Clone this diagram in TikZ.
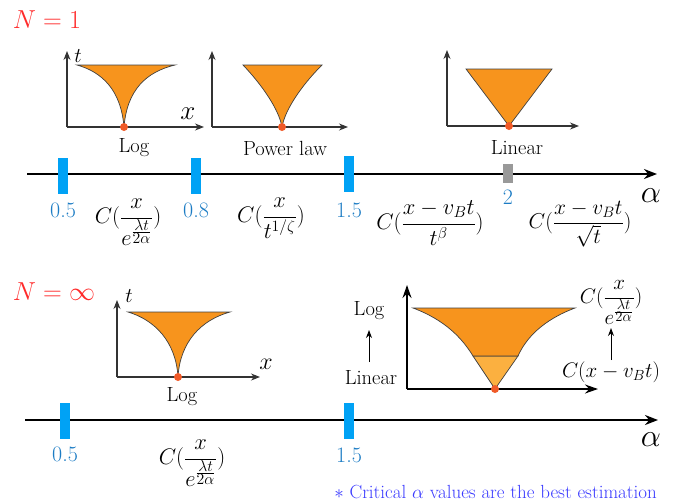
\RequirePackage{fix-cm}
\documentclass[tikz,border=0pt]{standalone}
\usetikzlibrary{arrows.meta}
\definecolor{forange}{HTML}{F7941D}
\definecolor{lorange}{HTML}{FBB040}
\definecolor{reddot}{HTML}{F05A28}
\definecolor{tickblue}{HTML}{00A2F5}
\definecolor{labblue}{HTML}{1C7CC4}
\definecolor{tickgray}{HTML}{999999}
\definecolor{nred}{HTML}{FF2A2A}
\definecolor{notblue}{HTML}{3A3AFF}
\definecolor{axgray}{HTML}{333333}
\newcommand{\expfrac}{e^{\frac{\scriptstyle\lambda t}{\scriptstyle 2\alpha}}}
\tikzset{
  mainaxis/.style={line width=2.4pt,-{Stealth[length=13pt,width=10pt]}},
  smallaxis/.style={axgray,line width=1.1pt,-{Stealth[length=9pt,width=7pt]}},
  bigaxis/.style={black,line width=1.6pt,-{Stealth[length=13pt,width=9pt]}},
  funnel/.style={fill=forange,draw=black!75,line width=0.7pt},
  lfunnel/.style={fill=lorange,draw=black!75,line width=0.7pt},
  dotn/.style={circle,fill=reddot,inner sep=0pt,minimum size=8pt},
  tickb/.style={fill=tickblue,inner sep=0pt,minimum width=10pt,minimum height=36pt},
  tickg/.style={fill=tickgray,inner sep=0pt,minimum width=10pt,minimum height=19pt},
  numlab/.style={text=labblue,font=\fontsize{22}{26}\selectfont,inner sep=0pt},
  txtlab/.style={font=\fontsize{20.5}{24}\selectfont,inner sep=0pt},
  formula/.style={font=\fontsize{22.5}{27}\selectfont,inner sep=0pt},
  ntitle/.style={text=nred,font=\fontsize{26}{30}\selectfont,inner sep=0pt},
  alab/.style={font=\fontsize{32}{36}\selectfont,inner sep=0pt},
  tlab/.style={font=\fontsize{21}{25}\selectfont,inner sep=0pt},
  xlab/.style={font=\fontsize{27}{31}\selectfont,inner sep=0pt},
  thinarrow/.style={black,line width=1pt,-{Stealth[length=8pt,width=6pt]}},
}
\begin{document}
\begin{tikzpicture}[x=1pt,y=-1pt]
\useasboundingbox (0,0) rectangle (676,501);

% ---------------- N = 1 ----------------
\node[ntitle] (n1) at (47,20) {$N=1$};

% main axis top
\coordinate (aA) at (27,174);
\coordinate (aB) at (657,174);
\draw[mainaxis] (aA) -- (aB);
\node[alab] (al1) at (651,196) {$\alpha$};

\node[tickb] (tk1) at (63,176) {};
\node[tickb] (tk2) at (196,176) {};
\node[tickb] (tk3) at (349,173.5) {};
\node[tickg] (tk4) at (508,173.5) {};

\node[numlab] (l1) at (63,210) {0.5};
\node[numlab] (l2) at (196,210) {0.8};
\node[numlab] (l3) at (349,210) {1.5};
\node[numlab] (l4) at (508,197) {2};

\node[formula] (f1) at (128,222) {$\displaystyle C(\frac{x}{\expfrac})$};
\node[formula] (f2) at (271,218) {$\displaystyle C(\frac{x}{t^{1/\zeta}})$};
\node[formula] (f3) at (430,223) {$\displaystyle C(\frac{x-v_Bt}{t^{\beta}})$};
\node[formula,font=\fontsize{21.5}{26}\selectfont] (f4) at (580,224) {$\displaystyle C(\frac{x-v_Bt}{\sqrt{t}})$};

% Log graph top
\coordinate (o1) at (67,127);
\coordinate (y1) at (67,51);
\coordinate (x1) at (204,127);
\draw[funnel] (77,65) -- (175,65) .. controls (146,72) and (127,90) .. (124,127)
   .. controls (121,90) and (102,72) .. cycle;
\draw[smallaxis] (o1) -- (y1);
\draw[smallaxis] (o1) -- (x1);
\node[dotn] (d1) at (124,127) {};
\node[tlab] (tt1) at (78,56) {$t$};
\node[xlab] (xx1) at (188,114) {$x$};
\node[txtlab] (g1) at (134,148) {Log};

% Power law graph
\coordinate (o2) at (212,127);
\coordinate (y2) at (212,51);
\coordinate (x2) at (348,127);
\draw[funnel] (243,65) -- (322,65) .. controls (301,86) and (285,110) .. (282,127)
   .. controls (279,110) and (263,86) .. cycle;
\draw[smallaxis] (o2) -- (y2);
\draw[smallaxis] (o2) -- (x2);
\node[dotn] (d2) at (282,127) {};
\node[txtlab] (g2) at (285,148) {Power law};

% Linear graph
\coordinate (o3) at (447,126);
\coordinate (y3) at (447,50);
\coordinate (x3) at (579,126);
\draw[funnel] (466,69) -- (552,69) -- (509,126) -- cycle;
\draw[smallaxis] (o3) -- (y3);
\draw[smallaxis] (o3) -- (x3);
\node[dotn] (d3) at (509,126) {};
\node[txtlab] (g3) at (517,148) {Linear};

% ---------------- N = infinity ----------------
\node[ntitle] (n2) at (54,292) {$N=\infty$};

\coordinate (bA) at (25,420);
\coordinate (bB) at (658,420);
\draw[mainaxis] (bA) -- (bB);
\node[alab] (al2) at (651,440) {$\alpha$};

\node[tickb] (bk1) at (65,420.5) {};
\node[tickb] (bk2) at (349,420.5) {};
\node[numlab] (bl1) at (65,454) {0.5};
\node[numlab] (bl2) at (349,455) {1.5};

\node[formula] (bf1) at (192,463) {$\displaystyle C(\frac{x}{\expfrac})$};

% bottom Log graph
\coordinate (o4) at (117,377);
\coordinate (y4) at (117,300);
\coordinate (x4) at (260,377);
\draw[funnel] (128,312) -- (230,312) .. controls (201,320) and (180,342) .. (178,377)
   .. controls (176,342) and (155,320) .. cycle;
\draw[smallaxis] (o4) -- (y4);
\draw[smallaxis] (o4) -- (x4);
\node[dotn] (d4) at (178,377) {};
\node[tlab] (tt4) at (129,296) {$t$};
\node[xlab,font=\fontsize{24}{28}\selectfont] (xx4) at (266,364) {$x$};
\node[txtlab] (g4) at (182,397) {Log};

% bottom right graph
\coordinate (o5) at (407,389);
\coordinate (y5) at (407,285);
\coordinate (x5) at (598,389);
\draw[lfunnel] (473,356) -- (518,356) -- (495,389) -- cycle;
\draw[funnel] (413,308) -- (575,308) .. controls (543,320) and (526,338) .. (518,356)
   -- (473,356) .. controls (462,338) and (445,320) .. cycle;
\draw[bigaxis] (o5) -- (y5);
\draw[bigaxis] (o5) -- (x5);
\node[dotn] (d5) at (495,389) {};

\node[txtlab] (lg) at (369,311) {Log};
\node[txtlab] (ln) at (371,378) {Linear};
\draw[thinarrow] (369,362) -- (369,330);

\node[formula,font=\fontsize{21}{25}\selectfont] (rf1) at (611,302) {$\displaystyle C(\frac{x}{\expfrac})$};
\node[formula,font=\fontsize{21}{25}\selectfont] (rf2) at (611,372) {$C(x-v_Bt)$};
\draw[thinarrow] (611,360) -- (611,328);

\node[text=notblue,font=\fontsize{19}{22}\selectfont,inner sep=0pt,anchor=east] (note) at (657,492) {$*$ Critical $\alpha$ values are the best estimation};
\end{tikzpicture}
\end{document}
